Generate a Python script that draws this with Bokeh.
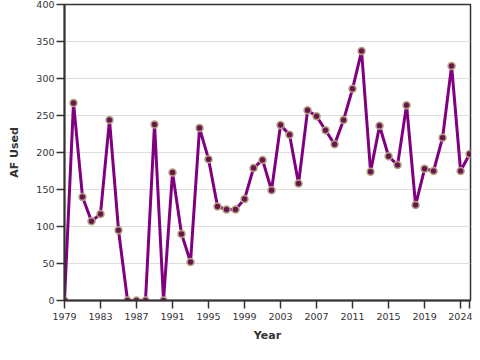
from bokeh.plotting import figure
from bokeh.models import Range1d, FixedTicker, ColumnDataSource
from bokeh.embed import file_html
from bokeh.resources import INLINE

years = list(range(1979, 2025))
af_used = [0, 267, 140, 107, 117, 244, 95, 0, 0, 0,
           238, 0, 173, 90, 52, 233, 191, 127, 123, 123,
           137, 179, 190, 149, 237, 224, 158, 257, 249, 230,
           211, 244, 286, 337, 174, 236, 195, 183, 264, 129,
           178, 175, 220, 317, 175, 198]
x_ticks = [1979, 1983, 1987, 1991, 1995, 1999, 2003, 2007, 2011, 2015, 2019, 2023, 2024]
x_tick_labels = {2023: ""}
y_ticks = [0, 50, 100, 150, 200, 250, 300, 350, 400]

src = ColumnDataSource(dict(year=years, af=af_used))

p = figure(width=472, height=344, output_backend="svg", toolbar_location=None,
           x_range=Range1d(1979, 2024.1), y_range=Range1d(0, 400),
           min_border_left=64, min_border_right=2, min_border_top=4, min_border_bottom=43)

p.line("year", "af", source=src, line_color="#800080", line_width=3)
p.scatter("year", "af", source=src, size=7, fill_color="#6a1450",
          line_color="#b3a47e", line_width=1.5)

p.xaxis.ticker = FixedTicker(ticks=x_ticks)
p.xaxis.major_label_overrides = x_tick_labels
p.yaxis.ticker = FixedTicker(ticks=y_ticks)
p.xaxis.axis_label = "Year"
p.yaxis.axis_label = "AF Used"

for ax in (p.xaxis, p.yaxis):
    ax.axis_line_color = "#333333"
    ax.axis_line_width = 2
    ax.major_tick_line_color = "#333333"
    ax.major_tick_line_width = 1.5
    ax.major_tick_out = 8
    ax.major_tick_in = 0
    ax.minor_tick_line_color = None
    ax.major_label_text_font = "DejaVu Sans"
    ax.major_label_text_font_size = "9.5px"
    ax.major_label_text_color = "#333333"
    ax.axis_label_text_font = "DejaVu Sans"
    ax.axis_label_text_font_size = "11px"
    ax.axis_label_text_font_style = "bold"
    ax.axis_label_text_color = "#333333"

p.xaxis.major_label_standoff = 4
p.xaxis.axis_label_standoff = 6
p.yaxis.major_label_standoff = 2
p.yaxis.axis_label_standoff = 12

p.xgrid.grid_line_color = None
p.ygrid.grid_line_color = "#dddddd"
p.ygrid.grid_line_width = 1
p.outline_line_color = "#333333"
p.outline_line_width = 1.5
p.background_fill_color = "white"
p.border_fill_color = "white"

open("out.html", "w").write(file_html(p, INLINE))
